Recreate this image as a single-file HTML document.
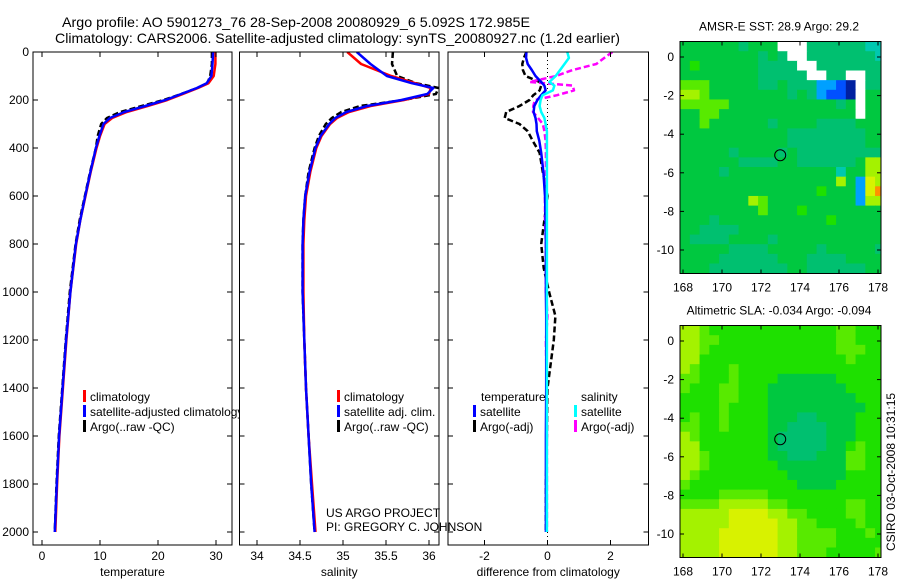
<!DOCTYPE html>
<html><head><meta charset="utf-8"><style>
html,body{margin:0;padding:0;background:#fff;}
svg{display:block;font-family:"Liberation Sans",sans-serif;}
</style></head><body>
<svg id="fig" width="900" height="580" viewBox="0 0 900 580" xmlns="http://www.w3.org/2000/svg">
<defs>
<clipPath id="cp1"><rect x="33" y="52" width="199" height="493"/></clipPath>
<clipPath id="cp1l"><rect x="33" y="52" width="206" height="493"/></clipPath>
<clipPath id="cp2"><rect x="239.5" y="52" width="199.5" height="493"/></clipPath>
<clipPath id="cp3"><rect x="448" y="52" width="200.5" height="493"/></clipPath>
<clipPath id="cm1"><rect x="680" y="41.5" width="201" height="231.5"/></clipPath>
<clipPath id="cm2"><rect x="680" y="325.5" width="201" height="232"/></clipPath>
</defs>
<text x="62" y="27" font-size="14" textLength="468" lengthAdjust="spacingAndGlyphs">Argo profile: AO 5901273_76 28-Sep-2008 20080929_6 5.092S 172.985E</text>
<text x="55" y="43" font-size="14" textLength="565" lengthAdjust="spacingAndGlyphs">Climatology: CARS2006. Satellite-adjusted climatology: synTS_20080927.nc (1.2d earlier)</text>
<g id="g1"></g><g id="g2"></g><g id="g3"></g><g id="gm"></g>
<text x="0" y="0" font-size="12" text-anchor="middle" transform="translate(895,472) rotate(-90)">CSIRO 03-Oct-2008 10:31:15</text>
</svg>
<script>
// ---- profile data ----
const depths = [0,50,100,130,150,175,200,225,250,275,300,350,400,500,600,700,800,1000,1200,1400,1600,1800,2000];
const tempClim = [29.9,29.9,29.6,28.7,26.9,24.3,21.6,18.2,14.6,12.1,10.8,10.0,9.4,8.4,7.5,6.6,5.9,4.9,4.2,3.6,3.0,2.6,2.3];
const tempSat = [29.5,29.4,29.2,28.4,26.7,24.0,21.3,17.8,14.2,11.7,10.6,9.9,9.3,8.35,7.45,6.6,5.85,4.9,4.15,3.55,2.95,2.55,2.2];
const tempArgo = [29.3,29.3,29.0,28.5,26.8,24.0,21.0,17.2,13.5,11.2,10.2,9.6,9.3,8.3,7.4,6.5,5.8,4.8,4.1,3.5,2.9,2.5,2.2];
const salClim = [35.05,35.21,35.56,35.84,36.02,36.0,35.71,35.32,35.07,34.93,34.85,34.75,34.69,34.62,34.57,34.55,34.54,34.54,34.55,34.57,34.6,34.64,34.68];
const salSat = [35.16,35.32,35.51,35.8,36.05,35.98,35.68,35.28,35.04,34.91,34.84,34.74,34.68,34.61,34.56,34.54,34.53,34.53,34.55,34.57,34.6,34.63,34.67];
const salArgo = [35.58,35.57,35.63,35.85,36.11,36.08,35.7,35.2,34.98,34.87,34.8,34.72,34.67,34.6,34.56,34.54,34.53,34.53,34.55,34.57,34.6,34.63,34.67];
const diffDepths = [0,25,50,75,100,125,140,160,180,200,225,250,275,300,330,370,420,500,600,700,800,900,1000,1100,1200,1400,1600,1800,2000];
const dTempSat = [-0.67,-0.68,-0.63,-0.5,-0.38,-0.2,-0.1,-0.06,-0.2,-0.32,-0.42,-0.44,-0.38,-0.35,-0.34,-0.26,-0.2,-0.13,-0.08,-0.06,-0.05,-0.05,-0.05,-0.04,-0.04,-0.04,-0.05,-0.05,-0.05];
const dTempArgo = [-0.67,-0.75,-0.8,-0.78,-0.7,-0.25,-0.2,-0.25,-0.45,-0.57,-0.89,-1.31,-1.36,-0.89,-0.63,-0.47,-0.25,-0.15,0.0,-0.1,-0.2,-0.12,0.05,0.25,0.2,0.0,-0.02,-0.05,-0.05];
const dSalSat = [0.63,0.68,0.54,0.4,0.26,0.06,0.22,0.17,-0.16,-0.22,-0.25,-0.2,-0.1,-0.06,-0.02,-0.02,-0.02,-0.02,-0.02,-0.02,-0.02,-0.02,-0.02,-0.02,-0.02,-0.02,-0.02,-0.02,-0.02];
const dSalArgo = [2.06,1.8,1.55,0.8,0.27,-0.57,0.8,0.84,0.3,-0.4,-0.45,-0.46,-0.3,-0.15,-0.1,-0.06,-0.05,-0.05,-0.08,-0.08,-0.05,-0.05,-0.05,0.0,-0.05,-0.03,-0.02,-0.02,-0.02];
const depthTicks = [0,200,400,600,800,1000,1200,1400,1600,1800,2000];
const tempTicks = [0,10,20,30];
const salTicks = [34,34.5,35,35.5,36];
const diffTicks = [-2,0,2];
// ---- map data (0.5 deg cells, digits = colour level, w = no data) ----
const sstGrid = [
"5555554555www44444433","55555555454ww44444443","565555554444ww4444444","5555555544444ww44ww44",
"777555554454442210w44","887555555554542110w55","777775555555555545w55","557755555555555555w55",
"557555555455554444555","555555555554444444455","555555555554444444455","555554555545444444444",
"555555444455444444588","555545555555555535588","555555555555555585298","55555555555555655529a",
"555555587555555555288","555555557555655555555","555455555555555655555","554444555555555555555",
"544445555455555555555","555554444555554555554","555544444455544445555","555444444445544444455"];
const slaGrid = [
"887666666666666677666","887766666666666677666","887666666666666677766","886666666666666667666",
"876667666666666666666","776667666655555566666","766677666555555556666","666677666555555555666",
"666676666555555555566","676676666555445555666","776676666554444555666","876666666544444555666",
"886666666544444556766","887666666554445557766","887666666655555557766","876666666665555556666",
"766666666666555566666","666677777666666666666","777788888776666667766","888889999887766667766",
"888889999988776666766","888899999988777766676","888899999988777766666","888899999988777666667"];
const lonTicks = [168,170,172,174,176,178];
const latTicks = [0,-2,-4,-6,-8,-10];
const argoLon = 172.985, argoLat = -5.092;

const NS = "http://www.w3.org/2000/svg";
function mk(tag, attrs, parent){const e=document.createElementNS(NS,tag);for(const k in attrs)e.setAttribute(k,attrs[k]);parent.appendChild(e);return e;}
const yP = p => 52 + 0.24*p;
const xT = t => 42 + 5.8*t;
const xS = s => 257 + 86*(s-34);
const xD = d => 547.5 + 31.5*d;

function line(g, xs, ys, fx, color, dash, name){
  const pts = xs.map((v,i)=>fx(v).toFixed(1)+","+yP(ys[i]).toFixed(1)).join(" ");
  const e = mk("polyline",{points:pts,fill:"none",stroke:color,"stroke-width":"2.5","stroke-linejoin":"round"},g);
  if(dash) e.setAttribute("stroke-dasharray",dash);
  
  
}
function panel(gid, x0, x1, fx, ticks, labelFn, title, clip, showY){
  const g = document.getElementById(gid);
  mk("rect",{x:x0,y:52,width:x1-x0,height:493,fill:"#fff",stroke:"none"},g);
  const lines = mk("g",{"clip-path":"url(#"+clip+")"},g);
  
  
  for(const p of depthTicks){
    mk("line",{x1:x0,x2:x0+5,y1:yP(p),y2:yP(p),stroke:"#000"},g);
    mk("line",{x1:x1-5,x2:x1,y1:yP(p),y2:yP(p),stroke:"#000"},g);
    if(showY){
      const t = mk("text",{x:29,y:yP(p)+4,"font-size":"12","text-anchor":"end"},g);
      t.textContent = p;
      
      
    }
  }
  for(const v of ticks){
    const x = fx(v);
    mk("line",{x1:x,x2:x,y1:52,y2:57,stroke:"#000"},g);
    mk("line",{x1:x,x2:x,y1:540,y2:545,stroke:"#000"},g);
    const t = mk("text",{x:x,y:560,"font-size":"12","text-anchor":"middle"},g);
    t.textContent = labelFn(v);
    
    
  }
  const tt = mk("text",{x:(x0+x1)/2,y:576,"font-size":"12","text-anchor":"middle"},g);
  tt.textContent = title;
  
  
  mk("rect",{x:x0,y:52,width:x1-x0,height:493,fill:"none",stroke:"#000","stroke-width":"1"},g);
  return lines;
}
function legend(g, x, y, color, label, clip){
  const gg = mk("g", clip?{"clip-path":"url(#"+clip+")"}:{}, g);
  
  
  if(color) mk("rect",{x:x,y:y-11,width:3,height:12,fill:color},gg);
  const t = mk("text",{x:x+7,y:y,"font-size":"12"},gg);
  t.textContent = label;
}

// Panel 1
const l1 = panel("g1",33,232,xT,tempTicks,v=>v,"temperature","cp1",true);
line(l1,tempArgo,depths,xT,"#000","6,3","temp-argo-line");
line(l1,tempClim,depths,xT,"#f00",null,"temp-climatology-line");
line(l1,tempSat,depths,xT,"#00f",null,"temp-satellite-line");
const g1 = document.getElementById("g1");
legend(g1,83,401,"#f00","climatology","cp1l");
legend(g1,83,416,"#00f","satellite-adjusted climatology","cp1l");
legend(g1,83,431,"#000","Argo(..raw -QC)","cp1l");

// Panel 2
const l2 = panel("g2",239.5,439,xS,salTicks,v=>v,"salinity","cp2",false);
line(l2,salArgo,depths,xS,"#000","6,3","sal-argo-line");
line(l2,salClim,depths,xS,"#f00",null,"sal-climatology-line");
line(l2,salSat,depths,xS,"#00f",null,"sal-satellite-line");
const g2 = document.getElementById("g2");
legend(g2,337,401,"#f00","climatology");
legend(g2,337,416,"#00f","satellite adj. clim.");
legend(g2,337,431,"#000","Argo(..raw -QC)");

// Panel 3
const l3 = panel("g3",448,648.5,xD,diffTicks,v=>v,"difference from climatology","cp3",false);
mk("line",{x1:xD(0),x2:xD(0),y1:52,y2:545,stroke:"#000","stroke-dasharray":"1,3"},l3);
line(l3,dTempArgo,diffDepths,xD,"#000","6,3","diff-temp-argo-line");
line(l3,dSalArgo,diffDepths,xD,"#f0f","6,3","diff-sal-argo-line");
line(l3,dTempSat,diffDepths,xD,"#00f",null,"diff-temp-satellite-line");
line(l3,dSalSat,diffDepths,xD,"#0ff",null,"diff-sal-satellite-line");
const g3 = document.getElementById("g3");
legend(g3,474,401,null,"temperature");
legend(g3,473,416,"#00f","satellite");
legend(g3,473,431,"#000","Argo(-adj)");
legend(g3,574,401,null,"salinity");
legend(g3,574,416,"#0ff","satellite");
legend(g3,574,431,"#f0f","Argo(-adj)");

// credit text
const cr1 = mk("text",{x:326,y:517,"font-size":"12"},document.getElementById("fig"));
cr1.textContent="US ARGO PROJECT";


const cr2 = mk("text",{x:326,y:531,"font-size":"12"},document.getElementById("fig"));
cr2.textContent="PI: GREGORY C. JOHNSON";



// Maps
const cmap = ["#0020a0","#0050ff","#00a0ff","#00c8b0","#00c070","#00c840","#1ee000","#58ea00","#a4f200","#d8f200","#ff9000"];
const mx = lon => 683 + (lon-168)*19.5;
function drawMap(grid, lat0y, top, clip, title, name){
  const gm = document.getElementById("gm");
  const g = mk("g",{"clip-path":"url(#"+clip+")"},gm);
  
  
  const my = lat => lat0y - lat*19.3;
  grid.forEach((row,r)=>{
    for(let c=0;c<row.length;c++){
      const ch=row[c];
      const lon=167.85+0.5*c, lat=0.8-0.5*r;
      const col = ch==="w" ? "#fff" : cmap[parseInt(ch,16)];
      const x=mx(lon), y=my(lat);
      const cell = mk("rect",{x:x.toFixed(2),y:y.toFixed(2),width:10.3,height:10.2,fill:col},g);
      
      
    }
  });
  const circ = mk("circle",{cx:mx(argoLon),cy:my(argoLat),r:5.5,fill:"none",stroke:"#000","stroke-width":"1"},g);
  
  
  const bottom = top + 232;
  mk("rect",{x:680,y:top,width:201,height:232,fill:"none",stroke:"#000"},gm);
  for(const lon of lonTicks){
    const x=mx(lon);
    mk("line",{x1:x,x2:x,y1:top,y2:top+4,stroke:"#000"},gm);
    mk("line",{x1:x,x2:x,y1:bottom-4,y2:bottom,stroke:"#000"},gm);
    const t=mk("text",{x:x,y:bottom+18,"font-size":"12","text-anchor":"middle"},gm);
    t.textContent=lon;
    
    
  }
  for(const lat of latTicks){
    const y=my(lat);
    mk("line",{x1:680,x2:684,y1:y,y2:y,stroke:"#000"},gm);
    mk("line",{x1:877,x2:881,y1:y,y2:y,stroke:"#000"},gm);
    const t=mk("text",{x:674,y:y+4,"font-size":"12","text-anchor":"end"},gm);
    t.textContent=lat;
    
    
  }
  const tt=mk("text",{x:779,y:top-11,"font-size":"12","text-anchor":"middle"},gm);
  tt.textContent=title;
  
  
}
drawMap(sstGrid,57,41.5,"cm1","AMSR-E SST: 28.9 Argo: 29.2","sst-map");
drawMap(slaGrid,341,325.5,"cm2","Altimetric SLA: -0.034 Argo: -0.094","sla-map");
</script>
</body></html>
